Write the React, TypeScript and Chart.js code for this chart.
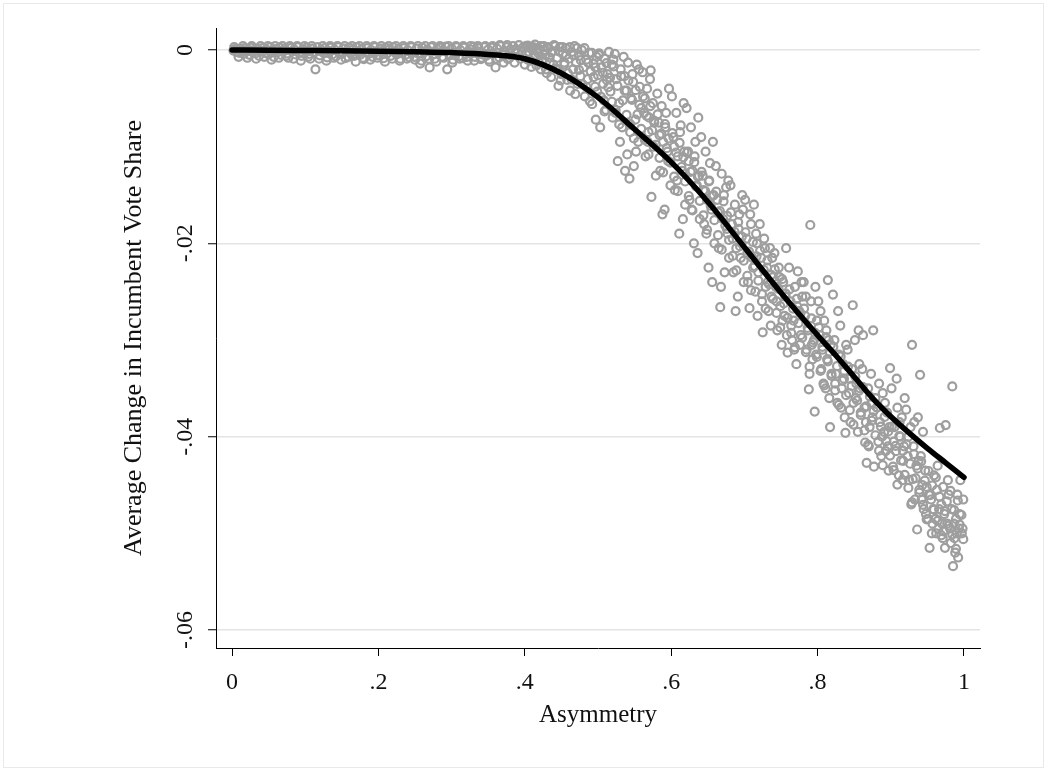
import React, { useEffect, useRef } from "react";
import { Chart, registerables } from "chart.js";

Chart.register(...registerables);

// ---------- DATA ----------
const X_TICKS = [0, 0.2, 0.4, 0.6, 0.8, 1];
const X_TICK_LABELS = ["0", ".2", ".4", ".6", ".8", "1"];
const Y_TICKS = [0, -0.02, -0.04, -0.06];
const Y_TICK_LABELS = ["0", "-.02", "-.04", "-.06"];
const X_TITLE = "Asymmetry";
const Y_TITLE = "Average Change in Incumbent Vote Share";

// smoothed fit (black line)
const FIT_X = [0, 0.05, 0.1, 0.15, 0.2, 0.25, 0.3, 0.35, 0.4, 0.45, 0.5, 0.55, 0.6, 0.65, 0.7, 0.75, 0.8, 0.825, 0.85, 0.875, 0.9, 0.925, 0.95, 0.975, 1.0];
const FIT_Y = [0, -0.00002, -0.00005, -0.00008, -0.00012, -0.00018, -0.00026, -0.00045, -0.0009, -0.0024, -0.0049, -0.0082, -0.0116, -0.0157, -0.0204, -0.0251, -0.0295, -0.0316, -0.0338, -0.036, -0.0379, -0.0396, -0.0412, -0.0427, -0.0442];

// observed points (hollow grey circles), [asymmetry, change]
const POINTS_FLAT: [number, number][] = [
  [0.002,-0.00005],[0.004,0.0001],[0.006,-0.0002],[0.008,0.00005],[0.010,-0.0003],[0.012,0.00015],[0.014,-0.0001],[0.016,-0.0004],
  [0.018,0.0002],[0.020,-0.00015],[0.022,0.00005],[0.024,-0.0005],[0.026,0.00025],[0.028,-0.0002],[0.030,0],[0.032,-0.00035],
  [0.035,0.00015],[0.037,-0.0006],[0.040,-0.0001],[0.042,0.0002],[0.045,-0.0003],[0.047,0.00005],[0.050,-0.00045],[0.052,0.0003],
  [0.055,-0.00015],[0.057,-0.0007],[0.060,0.0001],[0.062,-0.00025],[0.065,0.00025],[0.067,-0.0005],[0.070,-0.00005],[0.072,0.00015],
  [0.075,-0.00035],[0.077,-0.0008],[0.080,0.0002],[0.082,-0.00015],[0.085,0.00005],[0.087,-0.00045],[0.090,0.0003],[0.092,-0.00025],
  [0.095,-0.0006],[0.097,0.0001],[0.100,-0.0001],[0.102,0.00025],[0.105,-0.0004],[0.107,-0.0009],[0.110,0.00015],[0.112,-0.0002],
  [0.114,-0.002],[0.117,0.0003],[0.120,-0.00055],[0.122,0],[0.125,-0.0003],[0.127,0.0002],[0.130,-0.00075],[0.132,-0.0001],
  [0.135,0.00025],[0.137,-0.00045],[0.140,0.00005],[0.142,-0.00065],[0.145,0.0003],[0.147,-0.0002],[0.150,-0.0004],[0.152,0.00015],
  [0.155,-0.00085],[0.157,-0.00005],[0.160,0.00025],[0.162,-0.00035],[0.165,0.00005],[0.167,-0.0006],[0.170,0.0003],[0.172,-0.00015],
  [0.175,-0.0005],[0.177,0.0001],[0.180,-0.00095],[0.182,-0.00025],[0.185,0.0002],[0.187,-0.0004],[0.190,0],[0.192,-0.0007],
  [0.195,0.0003],[0.197,-0.0002],[0.200,-0.00055],[0.202,0.00015],[0.205,-0.0001],[0.207,-0.00085],[0.210,0.00025],[0.212,-0.00035],
  [0.215,0.00005],[0.217,-0.0006],[0.220,0.0003],[0.222,-0.00015],[0.225,-0.00045],[0.227,0.0001],[0.230,-0.0009],[0.232,-0.00025],
  [0.235,0.0002],[0.237,-0.0005],[0.240,0],[0.242,-0.00075],[0.245,0.0003],[0.247,-0.0003],[0.250,-0.001],[0.252,0.00015],
  [0.255,-0.0004],[0.257,-0.0014],[0.260,0.00025],[0.262,-0.0002],[0.265,-0.00065],[0.267,0.00005],[0.270,-0.0018],[0.272,0.0003],
  [0.275,-0.00045],[0.277,-0.0009],[0.280,0.0001],[0.282,-0.00025],[0.285,0.00025],[0.287,-0.0007],[0.290,-0.0001],[0.292,0.00035],
  [0.294,-0.002],[0.297,-0.0005],[0.300,0.00015],[0.302,-0.001],[0.305,-0.0003],[0.307,0.0003],[0.310,-0.00065],[0.312,0],
  [0.315,-0.00085],[0.317,0.00025],[0.320,-0.0004],[0.322,-0.0011],[0.325,0.0001],[0.327,-0.00025],[0.330,0.00035],[0.332,-0.0007],
  [0.335,-0.00015],[0.337,0.0002],[0.340,-0.00095],[0.342,-0.00045],[0.345,0.0003],[0.347,-0.0006],[0.350,0.00005],[0.352,-0.0012],
  [0.355,0.00025],[0.357,-0.00035],[0.360,-0.0018],[0.362,0.00015],[0.365,-0.00075],[0.367,0.0004],[0.370,-0.0005],[0.372,-0.0001],
  [0.375,0.0003],[0.377,-0.00095],[0.380,0.00005],
];

// edge points of the flat band
const POINTS_FLAT_EDGE: [number, number][] = [
  [0.003,0.0003],[0.009,-0.0007],[0.015,0.0004],[0.021,-0.0008],[0.027,0.0004],[0.033,-0.0009],[0.039,0.0004],[0.044,-0.0007],
  [0.049,0.0004],[0.054,-0.001],[0.059,0.0004],[0.064,-0.0008],[0.069,0.0004],[0.074,-0.0006],[0.079,0.0004],[0.084,-0.0009],
  [0.089,0.0004],[0.094,-0.0011],[0.099,0.0004],[0.104,-0.0007],[0.109,0.0004],[0.119,-0.0009],[0.124,0.0004],[0.129,-0.0011],
  [0.134,0.0004],[0.139,-0.0008],[0.144,0.0004],[0.149,-0.001],[0.154,0.0004],[0.159,-0.0007],[0.164,0.0004],[0.169,-0.0012],
  [0.174,0.0004],[0.179,-0.0008],[0.184,0.0004],[0.189,-0.001],[0.194,0.0004],[0.199,-0.0008],[0.204,0.0004],[0.209,-0.0012],
  [0.214,0.0004],[0.219,-0.0009],[0.224,0.0004],[0.229,-0.0011],[0.234,0.0004],[0.239,-0.0009],[0.244,0.0004],[0.249,-0.0007],
  [0.254,0.0004],[0.259,-0.0011],[0.264,0.0004],[0.269,-0.0009],[0.274,0.0004],[0.279,-0.0012],[0.284,0.0004],[0.289,-0.0008],
  [0.296,0.0004],[0.301,-0.0013],[0.306,0.0004],[0.311,-0.0009],[0.316,0.0004],[0.321,-0.0007],[0.326,0.0004],[0.331,-0.0011],
  [0.336,0.0004],[0.341,-0.0008],[0.346,0.0004],[0.351,-0.001],[0.356,0.0004],[0.361,-0.0009],[0.366,0.0005],[0.371,-0.0013],
  [0.376,0.0005],[0.379,-0.0008],
];

const POINTS_BEND: [number, number][] = [
  [0.382,-0.0006],[0.384,0.0004],[0.386,-0.0013],[0.388,0.0001],[0.390,-0.0003],[0.392,0.0005],[0.394,-0.0009],[0.396,-0.0001],
  [0.398,0.0003],[0.400,-0.0015],[0.402,-0.0005],[0.404,0.00045],[0.406,-0.0002],[0.408,-0.0011],[0.410,0.0002],[0.412,-0.0007],
  [0.414,0.00055],[0.416,-0.0016],[0.418,-0.0003],[0.420,0.0001],[0.422,-0.002],[0.424,-0.001],[0.426,0.0004],[0.428,-0.0005],
  [0.430,-0.0024],[0.432,0.0002],[0.434,-0.0013],[0.436,-0.0028],[0.438,-0.0001],[0.440,0.0005],[0.442,-0.0019],[0.444,-0.0008],
  [0.446,-0.0037],[0.448,0.0003],[0.450,-0.0025],[0.452,-0.0004],[0.454,-0.0015],[0.456,0.0002],[0.458,-0.0031],[0.460,-0.0009],
  [0.462,-0.0042],[0.464,-0.0002],[0.466,-0.002],[0.468,0.0004],[0.470,-0.0013],[0.472,-0.0035],[0.474,-0.0006],[0.476,-0.0027],
  [0.478,0],[0.480,-0.0018],[0.482,-0.0048],[0.484,-0.001],[0.486,-0.003],[0.488,-0.0003],[0.490,-0.0022],[0.492,-0.0056],
  [0.494,-0.0014],[0.496,-0.0038],[0.497,-0.0072],[0.498,-0.0007],[0.500,-0.0026],
];

const POINTS_SLOPE: [number, number][] = [
  [0.501,-0.0005],[0.503,-0.008],[0.505,-0.0018],[0.507,-0.0035],[0.509,-0.0009],[0.511,-0.0062],[0.513,-0.0025],[0.515,-0.0002],
  [0.517,-0.0043],[0.519,-0.0015],[0.520,-0.007],[0.512,-0.0031],[0.508,-0.0052],
  [0.521,-0.001],[0.523,-0.0004],[0.525,-0.003],[0.527,-0.0115],[0.529,-0.0055],[0.531,-0.002],[0.533,-0.008],[0.535,-0.0007],
  [0.537,-0.0125],[0.539,-0.0042],[0.524,-0.0065],[0.530,-0.0095],[0.536,-0.0027],[0.540,-0.0108],
  [0.541,-0.0013],[0.543,-0.0133],[0.545,-0.005],[0.547,-0.0025],[0.549,-0.012],[0.551,-0.0072],[0.553,-0.0015],[0.555,-0.0095],
  [0.557,-0.0038],[0.559,-0.006],[0.544,-0.0085],[0.548,-0.0033],[0.552,-0.0105],[0.556,-0.002],
  [0.561,-0.0023],[0.563,-0.0065],[0.565,-0.011],[0.567,-0.004],[0.569,-0.0085],[0.571,-0.003],[0.573,-0.0152],[0.575,-0.0055],
  [0.577,-0.0075],[0.579,-0.013],[0.564,-0.005],[0.568,-0.0095],[0.572,-0.0021],[0.576,-0.01],[0.570,-0.007],
  [0.581,-0.0045],[0.583,-0.0075],[0.585,-0.0125],[0.587,-0.0058],[0.589,-0.0095],[0.591,-0.0165],[0.593,-0.0065],[0.595,-0.0105],
  [0.597,-0.004],[0.599,-0.014],[0.584,-0.0088],[0.588,-0.017],[0.592,-0.008],[0.596,-0.0115],
  [0.601,-0.0048],[0.603,-0.009],[0.605,-0.0145],[0.607,-0.0065],[0.609,-0.011],[0.611,-0.019],[0.613,-0.0078],[0.615,-0.0125],
  [0.617,-0.0055],[0.619,-0.016],[0.604,-0.01],[0.608,-0.0135],[0.612,-0.0085],[0.616,-0.0175],[0.618,-0.0105],
  [0.621,-0.006],[0.623,-0.0105],[0.625,-0.0155],[0.627,-0.008],[0.629,-0.0125],[0.631,-0.02],[0.633,-0.0095],[0.635,-0.014],
  [0.637,-0.007],[0.639,-0.0175],[0.624,-0.0115],[0.628,-0.0165],[0.632,-0.011],[0.636,-0.021],[0.638,-0.013],
  [0.641,-0.009],[0.643,-0.013],[0.645,-0.018],[0.647,-0.0105],[0.649,-0.0155],[0.651,-0.0225],[0.653,-0.0117],[0.655,-0.0165],
  [0.657,-0.0095],[0.659,-0.02],[0.644,-0.0145],[0.648,-0.019],[0.652,-0.0135],[0.656,-0.024],[0.658,-0.015],
  [0.661,-0.012],[0.663,-0.0155],[0.665,-0.0205],[0.667,-0.0266],[0.669,-0.0128],[0.671,-0.0175],[0.673,-0.023],[0.675,-0.0142],
  [0.677,-0.019],[0.679,-0.0215],[0.664,-0.0168],[0.668,-0.0245],[0.672,-0.015],[0.676,-0.0185],[0.678,-0.0135],
  [0.681,-0.014],[0.683,-0.018],[0.685,-0.023],[0.687,-0.016],[0.689,-0.0205],[0.691,-0.0255],[0.693,-0.017],[0.695,-0.0215],
  [0.697,-0.015],[0.699,-0.024],[0.684,-0.0195],[0.688,-0.027],[0.692,-0.0185],[0.696,-0.02],[0.698,-0.0165],
  [0.701,-0.0155],[0.703,-0.0195],[0.705,-0.024],[0.707,-0.0267],[0.709,-0.018],[0.711,-0.0215],[0.713,-0.016],[0.715,-0.025],
  [0.717,-0.02],[0.719,-0.023],[0.704,-0.021],[0.708,-0.017],[0.712,-0.0225],[0.716,-0.019],[0.718,-0.0275],
];

const POINTS_TAIL: [number, number][] = [
  [0.721,-0.018],[0.723,-0.0215],[0.725,-0.0292],[0.727,-0.0195],[0.729,-0.0245],[0.731,-0.0225],[0.733,-0.027],[0.735,-0.0205],
  [0.737,-0.0255],[0.739,-0.0235],[0.724,-0.026],[0.728,-0.0205],[0.732,-0.024],[0.736,-0.0285],[0.738,-0.0215],
  [0.741,-0.021],[0.743,-0.0245],[0.745,-0.029],[0.747,-0.0225],[0.749,-0.0265],[0.751,-0.0305],[0.753,-0.024],[0.755,-0.0275],
  [0.757,-0.0205],[0.759,-0.0313],[0.744,-0.026],[0.748,-0.0235],[0.752,-0.028],[0.756,-0.0255],[0.758,-0.0295],
  [0.761,-0.0225],[0.763,-0.026],[0.765,-0.03],[0.767,-0.028],[0.769,-0.0245],[0.771,-0.0325],[0.773,-0.0229],[0.775,-0.027],
  [0.777,-0.0295],[0.779,-0.0255],[0.764,-0.0285],[0.768,-0.031],[0.772,-0.0265],[0.776,-0.0305],[0.778,-0.024],
  [0.781,-0.024],[0.783,-0.0275],[0.785,-0.031],[0.787,-0.029],[0.789,-0.0335],[0.790,-0.0181],[0.791,-0.026],[0.793,-0.032],
  [0.795,-0.03],[0.796,-0.0374],[0.797,-0.0245],[0.799,-0.028],[0.784,-0.0255],[0.788,-0.0351],[0.792,-0.0305],[0.798,-0.0315],
  [0.801,-0.026],[0.803,-0.0295],[0.805,-0.033],[0.807,-0.031],[0.809,-0.028],[0.811,-0.035],[0.813,-0.032],[0.814,-0.0238],
  [0.815,-0.03],[0.817,-0.039],[0.819,-0.0335],[0.804,-0.027],[0.808,-0.0345],[0.812,-0.029],[0.816,-0.036],[0.818,-0.0305],
  [0.821,-0.0253],[0.823,-0.03],[0.825,-0.0335],[0.827,-0.0365],[0.829,-0.0315],[0.831,-0.0285],[0.833,-0.035],[0.835,-0.0325],
  [0.837,-0.038],[0.839,-0.0305],[0.824,-0.0345],[0.828,-0.027],[0.832,-0.037],[0.836,-0.034],[0.838,-0.0396],
  [0.841,-0.031],[0.843,-0.0355],[0.845,-0.0385],[0.847,-0.033],[0.848,-0.0264],[0.849,-0.0365],[0.851,-0.03],[0.853,-0.0345],
  [0.855,-0.0395],[0.857,-0.0325],[0.859,-0.0375],[0.844,-0.034],[0.852,-0.036],[0.856,-0.029],[0.858,-0.035],
  [0.861,-0.033],[0.862,-0.0295],[0.864,-0.037],[0.865,-0.0406],[0.867,-0.0427],[0.869,-0.035],[0.871,-0.039],[0.873,-0.0335],
  [0.875,-0.038],[0.876,-0.029],[0.877,-0.0431],[0.879,-0.036],[0.866,-0.0385],[0.870,-0.041],[0.874,-0.0365],
  [0.881,-0.037],[0.883,-0.0405],[0.885,-0.0385],[0.887,-0.042],[0.889,-0.0355],[0.891,-0.0395],[0.893,-0.0415],[0.895,-0.0375],
  [0.897,-0.0435],[0.899,-0.0329],[0.884,-0.0345],[0.888,-0.04],[0.892,-0.0365],[0.896,-0.041],[0.898,-0.039],
  [0.901,-0.035],[0.903,-0.0431],[0.905,-0.039],[0.907,-0.0415],[0.909,-0.037],[0.911,-0.044],[0.913,-0.04],[0.915,-0.038],
  [0.917,-0.0425],[0.919,-0.036],[0.904,-0.0405],[0.908,-0.034],[0.912,-0.0385],[0.916,-0.0445],[0.918,-0.041],
  [0.921,-0.0372],[0.923,-0.042],[0.925,-0.0445],[0.927,-0.039],[0.929,-0.0305],[0.930,-0.0444],[0.931,-0.041],[0.933,-0.0465],
  [0.935,-0.043],[0.936,-0.0496],[0.937,-0.038],[0.939,-0.0455],[0.940,-0.0336],[0.924,-0.04],[0.928,-0.047],[0.932,-0.0385],[0.938,-0.0425],
  [0.941,-0.042],[0.943,-0.045],[0.945,-0.0475],[0.947,-0.0435],[0.949,-0.0452],[0.951,-0.0485],[0.953,-0.0515],[0.955,-0.0465],
  [0.957,-0.049],[0.959,-0.044],[0.944,-0.0395],[0.948,-0.048],[0.952,-0.046],[0.956,-0.05],[0.958,-0.0475],[0.942,-0.0465],
  [0.961,-0.0485],[0.963,-0.0455],[0.965,-0.0495],[0.967,-0.0391],[0.969,-0.047],[0.971,-0.0505],[0.973,-0.048],[0.975,-0.0388],
  [0.977,-0.049],[0.979,-0.046],[0.962,-0.05],[0.966,-0.0475],[0.970,-0.049],[0.974,-0.0515],[0.978,-0.0445],[0.964,-0.043],[0.972,-0.0498],
  [0.981,-0.0495],[0.983,-0.0475],[0.984,-0.0348],[0.985,-0.0534],[0.987,-0.0505],[0.988,-0.052],[0.989,-0.0485],[0.991,-0.046],
  [0.993,-0.0495],[0.995,-0.0445],[0.997,-0.05],[0.999,-0.0465],[0.982,-0.051],[0.986,-0.049],[0.990,-0.05],[0.994,-0.048],
  [0.998,-0.0495],[0.992,-0.0525],
];

// dense core of the cloud, read along its visual centre
const POINTS_CORE: [number, number][] = [
  [0.4015,0.0004],[0.404,-0.001],[0.4065,0.00025],[0.409,-0.00175],[0.4115,0.0003],[0.414,-0.0005],[0.4165,0],[0.419,-0.00125],
  [0.4215,0.0004],[0.424,-0.00125],[0.4265,0],[0.429,-0.002],[0.4315,0.0003],[0.434,-0.00075],[0.4365,-0.00025],[0.439,-0.0015],
  [0.4415,0.0004],[0.444,-0.002],[0.4465,-0.00015],[0.449,-0.00315],[0.4515,0.0003],[0.454,-0.0013],[0.4565,-0.0005],[0.459,-0.0024],
  [0.4615,0.0003],[0.464,-0.00305],[0.4665,-0.00055],[0.469,-0.00455],[0.4715,0.0002],[0.474,-0.00205],[0.4765,-0.00105],[0.479,-0.00355],
  [0.4815,0.0002],[0.484,-0.0038],[0.4865,-0.0013],[0.489,-0.0053],[0.4915,-0.0003],[0.494,-0.0028],[0.4965,-0.0018],[0.499,-0.0043],
  [0.5015,-0.00035],[0.504,-0.00485],[0.5065,-0.00235],[0.509,-0.00635],[0.5115,-0.00135],[0.514,-0.00385],[0.5165,-0.00285],[0.519,-0.00535],
  [0.5215,-0.0017],[0.524,-0.0062],[0.5265,-0.0037],[0.529,-0.0077],[0.5315,-0.0027],[0.534,-0.0052],[0.5365,-0.0042],[0.539,-0.0067],
  [0.5415,-0.00315],[0.544,-0.00765],[0.5465,-0.00515],[0.549,-0.00915],[0.5515,-0.00415],[0.554,-0.00665],[0.5565,-0.00565],[0.559,-0.00815],
  [0.5615,-0.0048],[0.564,-0.0093],[0.5665,-0.0068],[0.569,-0.0108],[0.5715,-0.0058],[0.574,-0.0083],[0.5765,-0.0073],[0.579,-0.0098],
  [0.5815,-0.00665],[0.584,-0.01115],[0.5865,-0.00865],[0.589,-0.01265],[0.5915,-0.00765],[0.594,-0.01015],[0.5965,-0.00915],[0.599,-0.01165],
  [0.6015,-0.0086],[0.604,-0.0131],[0.6065,-0.0106],[0.609,-0.0146],[0.6115,-0.0096],[0.614,-0.0121],[0.6165,-0.0111],[0.619,-0.0136],
  [0.6215,-0.0106],[0.624,-0.0151],[0.6265,-0.0126],[0.629,-0.0166],[0.6315,-0.0116],[0.634,-0.0141],[0.6365,-0.0131],[0.639,-0.0156],
  [0.6415,-0.0126],[0.644,-0.0171],[0.6465,-0.0146],[0.649,-0.0186],[0.6515,-0.0136],[0.654,-0.0161],[0.6565,-0.0151],[0.659,-0.0176],
  [0.6615,-0.01465],[0.664,-0.01915],[0.6665,-0.01665],[0.669,-0.02065],[0.6715,-0.01565],[0.674,-0.01815],[0.6765,-0.01715],[0.679,-0.01965],
  [0.6815,-0.0168],[0.684,-0.0213],[0.6865,-0.0188],[0.689,-0.0228],[0.6915,-0.0178],[0.694,-0.0203],[0.6965,-0.0193],[0.699,-0.0218],
  [0.7015,-0.01885],[0.704,-0.02335],[0.7065,-0.02085],[0.709,-0.02485],[0.7115,-0.01985],[0.714,-0.02235],[0.7165,-0.02135],[0.719,-0.02385],
  [0.7215,-0.02075],[0.724,-0.02525],[0.7265,-0.02275],[0.729,-0.02675],[0.7315,-0.02175],[0.734,-0.02425],[0.7365,-0.02325],[0.739,-0.02575],
  [0.7415,-0.0227],[0.744,-0.0272],[0.7465,-0.0247],[0.749,-0.0287],[0.7515,-0.0237],[0.754,-0.0262],[0.7565,-0.0252],[0.759,-0.0277],
  [0.7615,-0.02475],[0.764,-0.02925],[0.7665,-0.02675],[0.769,-0.03075],[0.7715,-0.02575],[0.774,-0.02825],[0.7765,-0.02725],[0.779,-0.02975],
  [0.7815,-0.02675],[0.784,-0.03125],[0.7865,-0.02875],[0.789,-0.03275],[0.7915,-0.02775],[0.794,-0.03025],[0.7965,-0.02925],[0.799,-0.03175],
  [0.8015,-0.0287],[0.804,-0.0332],[0.8065,-0.0307],[0.809,-0.0347],[0.8115,-0.0297],[0.814,-0.0322],[0.8165,-0.0312],[0.819,-0.0337],
  [0.8215,-0.0307],[0.824,-0.0352],[0.8265,-0.0327],[0.829,-0.0367],[0.8315,-0.0317],[0.834,-0.0342],[0.8365,-0.0332],[0.839,-0.0357],
  [0.8415,-0.03275],[0.844,-0.03725],[0.8465,-0.03475],[0.849,-0.03875],[0.8515,-0.03375],[0.854,-0.03625],[0.8565,-0.03525],[0.859,-0.03775],
  [0.8615,-0.03485],[0.864,-0.03935],[0.8665,-0.03685],[0.869,-0.04085],[0.8715,-0.03585],[0.874,-0.03835],[0.8765,-0.03735],[0.879,-0.03985],
  [0.8815,-0.03695],[0.884,-0.04145],[0.8865,-0.03895],[0.889,-0.04295],[0.8915,-0.03795],[0.894,-0.04045],[0.8965,-0.03945],[0.899,-0.04195],
  [0.9015,-0.03895],[0.904,-0.04345],[0.9065,-0.04095],[0.909,-0.04495],[0.9115,-0.03995],[0.914,-0.04245],[0.9165,-0.04145],[0.919,-0.04395],
  [0.9215,-0.0408],[0.924,-0.0453],[0.9265,-0.0428],[0.929,-0.0468],[0.9315,-0.0418],[0.934,-0.0443],[0.9365,-0.0433],[0.939,-0.0458],
  [0.9415,-0.04255],[0.944,-0.04705],[0.9465,-0.04455],[0.949,-0.04855],[0.9515,-0.04355],[0.954,-0.04605],[0.9565,-0.04505],[0.959,-0.04755],
  [0.9615,-0.0442],[0.964,-0.0487],[0.9665,-0.0462],[0.969,-0.0502],[0.9715,-0.0452],[0.974,-0.0477],[0.9765,-0.0467],[0.979,-0.0492],
  [0.9815,-0.0456],[0.984,-0.0501],[0.9865,-0.0476],[0.989,-0.0516],[0.9915,-0.0466],[0.994,-0.0491],[0.9965,-0.0481],[0.999,-0.0506],
];

// ---------- STYLE ----------
const FONT = "'Liberation Serif', 'Times New Roman', serif";
const TEXT_COLOR = "#111111";
const POINT_COLOR = "#9e9e9e";
const GRID_COLOR = "#e4e4e4";

const textPlugin = {
  id: "stataText",
  afterDraw(chart: any) {
    const ctx = chart.ctx as CanvasRenderingContext2D;
    const xs = chart.scales.x;
    const ys = chart.scales.y;
    const area = chart.chartArea;
    ctx.save();
    ctx.fillStyle = TEXT_COLOR;
    ctx.font = `24px ${FONT}`;
    ctx.textAlign = "center";
    ctx.textBaseline = "alphabetic";
    X_TICKS.forEach((v, i) => {
      ctx.fillText(X_TICK_LABELS[i], xs.getPixelForValue(v), area.bottom + 41);
    });
    Y_TICKS.forEach((v, i) => {
      ctx.save();
      ctx.translate(area.left - 24, ys.getPixelForValue(v));
      ctx.rotate(-Math.PI / 2);
      ctx.fillText(Y_TICK_LABELS[i], 0, 0);
      ctx.restore();
    });
    ctx.font = `25px ${FONT}`;
    ctx.fillText(X_TITLE, (area.left + area.right) / 2, area.bottom + 74);
    ctx.font = `26px ${FONT}`;
    ctx.save();
    ctx.translate(area.left - 75, (area.top + area.bottom) / 2);
    ctx.rotate(-Math.PI / 2);
    ctx.fillText(Y_TITLE, 0, 0);
    ctx.restore();
    ctx.strokeStyle = "#e9e9e9";
    ctx.lineWidth = 1;
    ctx.strokeRect(3.5, 3.5, 1040, 764);
    ctx.restore();
  },
};

export default function App() {
  const ref = useRef<HTMLCanvasElement | null>(null);
  useEffect(() => {
    if (!ref.current) return;
    const allPoints = [...POINTS_FLAT, ...POINTS_FLAT_EDGE, ...POINTS_BEND, ...POINTS_SLOPE, ...POINTS_TAIL, ...POINTS_CORE].map(([x, y]) => ({ x, y }));
    const fit = FIT_X.map((x, i) => ({ x, y: FIT_Y[i] }));
    const chart = new Chart(ref.current, {
      type: "scatter",
      data: {
        datasets: [
          {
            type: "line",
            data: fit,
            borderColor: "#000000",
            borderWidth: 5.5,
            pointRadius: 0,
            cubicInterpolationMode: "monotone",
            borderCapStyle: "round",
            fill: false,
            order: 0,
          } as any,
          {
            type: "scatter",
            data: allPoints,
            pointStyle: "circle",
            pointRadius: 4,
            pointBorderWidth: 2.2,
            pointBorderColor: POINT_COLOR,
            pointBackgroundColor: "rgba(0,0,0,0)",
            order: 1,
          } as any,
        ],
      },
      options: {
        animation: false,
        responsive: false,
        maintainAspectRatio: false,
        events: [],
        layout: { padding: { left: 0, right: 67, top: 28, bottom: 0 } },
        plugins: { legend: { display: false }, tooltip: { enabled: false }, title: { display: false } },
        scales: {
          x: {
            type: "linear",
            min: -0.02186,
            max: 1.02186,
            afterBuildTicks: (s: any) => { s.ticks = X_TICKS.map((v) => ({ value: v })); },
            afterFit: (s: any) => { s.height = 122; },
            ticks: { display: false },
            grid: { drawOnChartArea: false, drawTicks: true, tickLength: 8, tickColor: "#000", tickWidth: 1 },
            border: { display: true, color: "#000", width: 1 },
          },
          y: {
            type: "linear",
            min: -0.06186,
            max: 0.00228,
            afterBuildTicks: (s: any) => { s.ticks = Y_TICKS.map((v) => ({ value: v })); },
            afterFit: (s: any) => { s.width = 216; },
            ticks: { display: false },
            grid: { drawOnChartArea: true, color: GRID_COLOR, lineWidth: 1.5, drawTicks: true, tickLength: 8, tickColor: "#000", tickWidth: 1 },
            border: { display: true, color: "#000", width: 1 },
          },
        },
      },
      plugins: [textPlugin],
    });
    return () => chart.destroy();
  }, []);
  return (
    <div style={{ position: "fixed", left: 0, top: 0, width: 1047, height: 770, background: "#fff" }}>
      <canvas ref={ref} width={1047} height={770} style={{ display: "block", width: 1047, height: 770 }} />
    </div>
  );
}
